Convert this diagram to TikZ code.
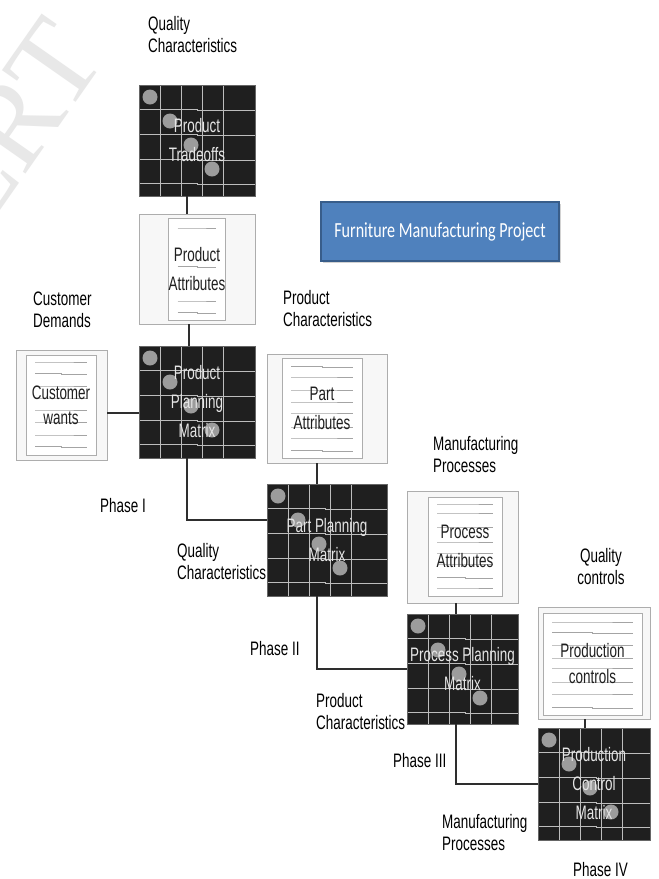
\documentclass[tikz,border=0pt]{standalone}
\usepackage{fontspec}
\setmainfont[FakeStretch=0.69]{Liberation Sans}
\newfontfamily\titlefont[FakeStretch=0.75]{Carlito}
\newfontfamily\wmfont{Liberation Serif}
\usepackage{tikz}
\usetikzlibrary{positioning}
\usetikzlibrary{calc}
\usetikzlibrary{shadows}

\definecolor{gridgray}{HTML}{BDBDBD}
\definecolor{dotgray}{HTML}{9C9C9C}
\definecolor{boxgray}{HTML}{ADADAD}
\definecolor{rulegray}{HTML}{A4A4A4}
\definecolor{titleblue}{HTML}{4F81BD}
\definecolor{titleedge}{HTML}{385D8A}
\definecolor{linkgray}{HTML}{2E2E2E}

\tikzset{
    lbl/.style={font=\fontsize{19.5}{22}\selectfont, align=left, anchor=base west, inner sep=0pt},
    mtx/.style={draw=black!60, fill=black!88, text=white!90!black, font=\fontsize{19.5}{29}\selectfont,
        align=center, inner sep=0pt,
        path picture={
            \foreach \gx in {21,42,63,84}
                \draw[gridgray, line width=0.9pt] ($(path picture bounding box.north west)+(\gx,0)$)
                    -- ($(path picture bounding box.south west)+(\gx,0)$);
            \foreach \gy in {24,49,74,98}
                \draw[gridgray, line width=0.9pt] ($(path picture bounding box.north west)+(0,\gy)$)
                    -- ++(58,0) -- ++(0,1.5) -- ($(path picture bounding box.north east)+(0,\gy+1.5)$);
            \foreach \cx/\cy in {11/12,31/36,52/60,73/84}
                \fill[dotgray] ($(path picture bounding box.north west)+(\cx,\cy)$) circle (7.5pt);}},
    docbox/.style={draw=boxgray, fill=black!3, line width=0.8pt, inner sep=0pt},
    docpaper/.style={draw=boxgray, fill=white, line width=0.8pt, text=black!88, font=\fontsize{19.5}{29}\selectfont,
        align=center, inner sep=0pt,
        path picture={
            \foreach \ly/\st in {#1}
                \draw[rulegray, line width=0.9pt]
                    ($(path picture bounding box.north west)+(9,\ly)$) -- ($(path picture bounding box.north)+(0,\ly)$)
                    -- ++(0,\st) -- ($(path picture bounding box.north east)+(-9,\ly+\st)$);}},
    link/.style={draw=linkgray, line width=1.3pt},
    titlebox/.style={draw=titleedge, line width=1.2pt, fill=titleblue, text=white,
        font=\titlefont\fontsize{21.5}{24}\selectfont, inner sep=0pt,
        drop shadow={shadow xshift=1.5pt, shadow yshift=-2pt, opacity=0.35}},
    wmark/.style={font=\wmfont\fontsize{120}{120}\selectfont, text=black!9, inner sep=0pt}
}

\begin{document}
\begin{tikzpicture}[x=1pt, y=-1pt]
    \useasboundingbox (0,0) rectangle (659,879);
    \clip (0,0) rectangle (659,879);
    \fill[white] (0,0) rectangle (659,879);
    \node[wmark, rotate=55] (wm) at (12,125) {ERT};

    % phase I
    \node[mtx, minimum width=116, minimum height=111] (m1) at (197,140.5) {Product\\Tradeoffs};
    \node[docbox, minimum width=116, minimum height=110] (pa) at (197,269) {};
    \node[docpaper={10/0,48/1.5,83/0,94/1.5}, minimum width=54, minimum height=102] (pa-in) at (197,269) {Product\\Attributes};
    \node[mtx, minimum width=116, minimum height=112] (m2) at (197,402) {Product\\Planning\\Matrix};
    \node[docbox, minimum width=91, minimum height=110] (cw) at (61.5,405) {};
    \node[docpaper={7/0,18/1.5,31/0,43/0,55/0,67/0,80/0,91/1.5}, font=\fontsize{19.5}{25}\selectfont,
        minimum width=70, minimum height=100] (cw-in) at (61,405) {Customer\\wants};

    % phase II
    \node[docbox, minimum width=120, minimum height=109] (part) at (327,408.5) {};
    \node[docpaper={8/1.5,19/0,32/0,44/0,55/0,69/0,80/0,92/1.5}, minimum width=80, minimum height=100] (part-in) at (322,408) {Part\\Attributes};
    \node[mtx, minimum width=120, minimum height=112] (m3) at (327,540) {Part Planning\\Matrix};

    % phase III
    \node[docbox, minimum width=111, minimum height=112] (proc) at (462.5,547) {};
    \node[docpaper={7/0,16/0,30/0,45/0,56/0,67/0,80/1.5,91/0}, minimum width=74, minimum height=99] (proc-in) at (465,546.5) {Process\\Attributes};
    \node[mtx, minimum width=111, minimum height=110] (m4) at (462.5,669) {Process Planning\\Matrix};

    % phase IV
    \node[docbox, minimum width=112, minimum height=112] (ctl) at (594,663) {};
    \node[docpaper={9/0,19/1.5,32/0,45/0,55/0,69/0,81/0,94/1.5}, font=\fontsize{19.5}{26}\selectfont,
        minimum width=99, minimum height=102] (ctl-in) at (592.5,664) {Production\\controls};
    \node[mtx, minimum width=112, minimum height=112] (m5) at (594,784) {Production\\Control\\Matrix};

    \node[titlebox, minimum width=238, minimum height=59] (title) at (440,231.5) {Furniture Manufacturing Project};

    % connectors
    \draw[link] ([xshift=-10pt]m1.south) -- ([xshift=-10pt]pa.north);
    \draw[link] ([xshift=-8pt]pa.south) -- ([xshift=-8pt]m2.north);
    \draw[link] ([yshift=-8pt]cw.east) -- ([yshift=-8pt]cw.east -| m2.west);
    \draw[link] ([xshift=-10pt]m2.south) |- ([yshift=20pt]m3.west);
    \draw[link] ([xshift=-10pt]part.south) -- ([xshift=-10pt]m3.north);
    \draw[link] ([xshift=-10pt]m3.south) |- (m4.west);
    \draw[link] ([xshift=-6.5pt]proc.south) -- ([xshift=-6.5pt]m4.north);
    \draw[link] ([xshift=-6.5pt]m4.south) |- (m5.west);
    \draw[link] ([xshift=-9pt]ctl.south) -- ([xshift=-9pt]m5.north);

    % labels (base = last line)
    \node[lbl] (qc1) at (148,52) {Quality\\Characteristics};
    \node[lbl] (cd) at (33,327) {Customer\\Demands};
    \node[lbl] (pc1) at (283,326) {Product\\Characteristics};
    \node[lbl] (mp1) at (433,472) {Manufacturing\\Processes};
    \node[lbl] (ph1) at (100,512) {Phase I};
    \node[lbl] (qc2) at (177,579) {Quality\\Characteristics};
    \node[lbl] (ph2) at (250,655) {Phase II};
    \node[lbl] (pc2) at (316,729) {Product\\Characteristics};
    \node[lbl] (ph3) at (393,767) {Phase III};
    \node[lbl] (mp2) at (442,850) {Manufacturing\\Processes};
    \node[lbl] (ph4) at (573,876) {Phase IV};
    \node[lbl, align=center, anchor=base] (qctl) at (601,584) {Quality\\controls};
\end{tikzpicture}
\end{document}
